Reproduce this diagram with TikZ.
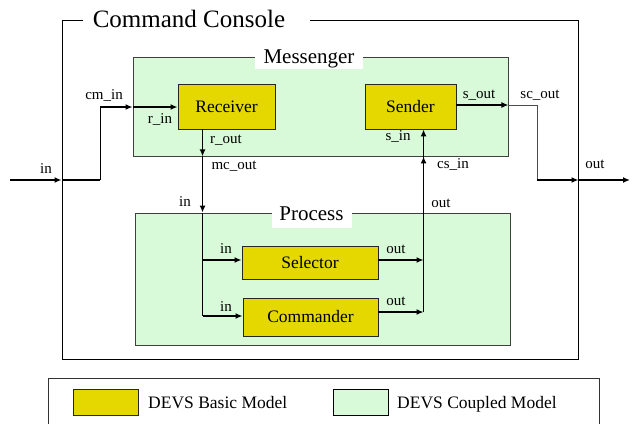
\documentclass[tikz,border=0pt]{standalone}
\usepackage{fontspec}
\IfFontExistsTF{LiberationSerif-Regular.ttf}{\setmainfont{LiberationSerif-Regular.ttf}}{\setmainfont{Liberation Serif}}
\usetikzlibrary{arrows.meta}
\definecolor{basicY}{RGB}{228,216,0}
\definecolor{coupledG}{RGB}{216,250,216}
\tikzset{
  basic/.style={draw=black!85, line width=0.9pt, fill=basicY, inner sep=0pt, font=\rmfamily\fontsize{17.5}{17.5}\selectfont},
  coupled/.style={draw=black!75, line width=0.9pt, fill=coupledG, inner sep=0pt},
  conn/.style={line width=1.5pt, -{Latex[length=7pt,width=6pt]}},
  plain/.style={line width=1.5pt},
  thinline/.style={line width=0.8pt, draw=black!70},
  lbl/.style={anchor=base, inner sep=0pt, font=\rmfamily\fontsize{15}{15}\selectfont},
  ttl/.style={anchor=base, inner sep=0pt},
  legtxt/.style={anchor=base west, inner sep=0pt, font=\rmfamily\fontsize{17.5}{17.5}\selectfont}
}
\begin{document}
\begin{tikzpicture}[x=1pt,y=-1pt]
\useasboundingbox (0,0) rectangle (636,423);
% outer coupled model
\node[draw=black, line width=1pt, minimum width=516pt, minimum height=339pt, inner sep=0pt] (cc) at (320,189.5) {};
\fill[white] (83,6) rectangle (310,32);
\node[ttl, font=\rmfamily\fontsize{25}{25}\selectfont] (cctitle) at (189,27) {Command Console};
% Messenger
\node[coupled, minimum width=375pt, minimum height=99pt] (msg) at (320.5,106.5) {};
\fill[white] (255,43) rectangle (363,69);
\node[ttl, font=\rmfamily\fontsize{21}{21}\selectfont] (msgtitle) at (309,63) {Messenger};
% Process
\node[coupled, minimum width=375pt, minimum height=132pt] (proc) at (322.5,279) {};
\fill[white] (272,199) rectangle (352,228);
\node[ttl, font=\rmfamily\fontsize{21}{21}\selectfont] (proctitle) at (311.5,220) {Process};
% basic models
\node[basic, minimum width=97pt, minimum height=45pt] (recv) at (226.5,106.5) {Receiver};
\node[basic, minimum width=91pt, minimum height=45pt] (send) at (410.5,106.5) {Sender};
\node[basic, minimum width=136pt, minimum height=33pt] (sel) at (310,262.5) {Selector};
\node[basic, minimum width=135pt, minimum height=38pt] (cmdr) at (310.5,317) {Commander};
% coordinates
\coordinate (inL) at (10,180);
\coordinate (j1) at (100,180);
\coordinate (rout) at ([xshift=25pt]recv.south west);
\coordinate (sin) at ([xshift=59pt]send.south west);
\coordinate (j2) at (537,105);
\coordinate (j3) at (537,180);
\coordinate (outR) at (630,180);
% input chain
\draw[conn] (inL) -- (cc.west |- inL);
\draw[plain] (cc.west |- inL) -- (j1);
\draw[thinline, draw=black] (j1) -- (j1 |- 0,107);
\draw[conn] (j1 |- 0,107) -- (msg.west |- 0,107);
\draw[conn] (msg.west |- 0,107) -- (recv.west |- 0,107);
% receiver to process
\draw[conn] (rout) -- (rout |- msg.south);
\draw[conn] (rout |- msg.south) -- (rout |- proc.north);
\draw[plain] (rout |- proc.north) -- (rout |- 0,316);
\draw[conn] (rout |- 0,260) -- (sel.west |- 0,260);
\draw[conn] (rout |- 0,316) -- (cmdr.west |- 0,316);
% process outputs to sender
\draw[conn] (sel.east |- 0,260) -- (sin |- 0,260);
\draw[conn] (cmdr.east |- 0,312) -- (sin |- 0,312);
\draw[plain] (sin |- 0,312) -- (sin |- msg.south);
\draw[conn] (sin |- proc.north) -- (sin |- msg.south);
\draw[conn] (sin |- msg.south) -- (sin);
% sender output
\draw[conn] (send.east |- j2) -- (msg.east |- j2);
\draw[thinline] (msg.east |- j2) -- (j2) -- (j3);
\draw[conn] (j3) -- (cc.east |- j3);
\draw[conn] (cc.east |- j3) -- (outR);
% port labels
\node[lbl] (l1) at (46,173) {in};
\node[lbl] (l2) at (104,99) {cm\_in};
\node[lbl] (l3) at (160,123) {r\_in};
\node[lbl] (l4) at (226,143) {r\_out};
\node[lbl] (l5) at (234,169) {mc\_out};
\node[lbl] (l6) at (185,206) {in};
\node[lbl] (l7) at (226,253) {in};
\node[lbl] (l8) at (226,311) {in};
\node[lbl] (l9) at (396,253) {out};
\node[lbl] (l10) at (396,305) {out};
\node[lbl] (l11) at (441,207) {out};
\node[lbl] (l12) at (453,168) {cs\_in};
\node[lbl] (l13) at (398,140) {s\_in};
\node[lbl] (l14) at (479,98) {s\_out};
\node[lbl] (l15) at (540,98) {sc\_out};
\node[lbl] (l16) at (595,168) {out};
% legend
\draw[line width=1pt, draw=black!80] (48,430) -- (48,378) -- (599,378) -- (599,430);
\node[basic, minimum width=65pt, minimum height=26pt] (legB) at (105.5,402) {};
\node[legtxt] (legBt) at (148,408) {DEVS Basic Model};
\node[coupled, draw=black, minimum width=55pt, minimum height=26pt] (legC) at (360.5,402) {};
\node[legtxt] (legCt) at (397,408) {DEVS Coupled Model};
\end{tikzpicture}
\end{document}
